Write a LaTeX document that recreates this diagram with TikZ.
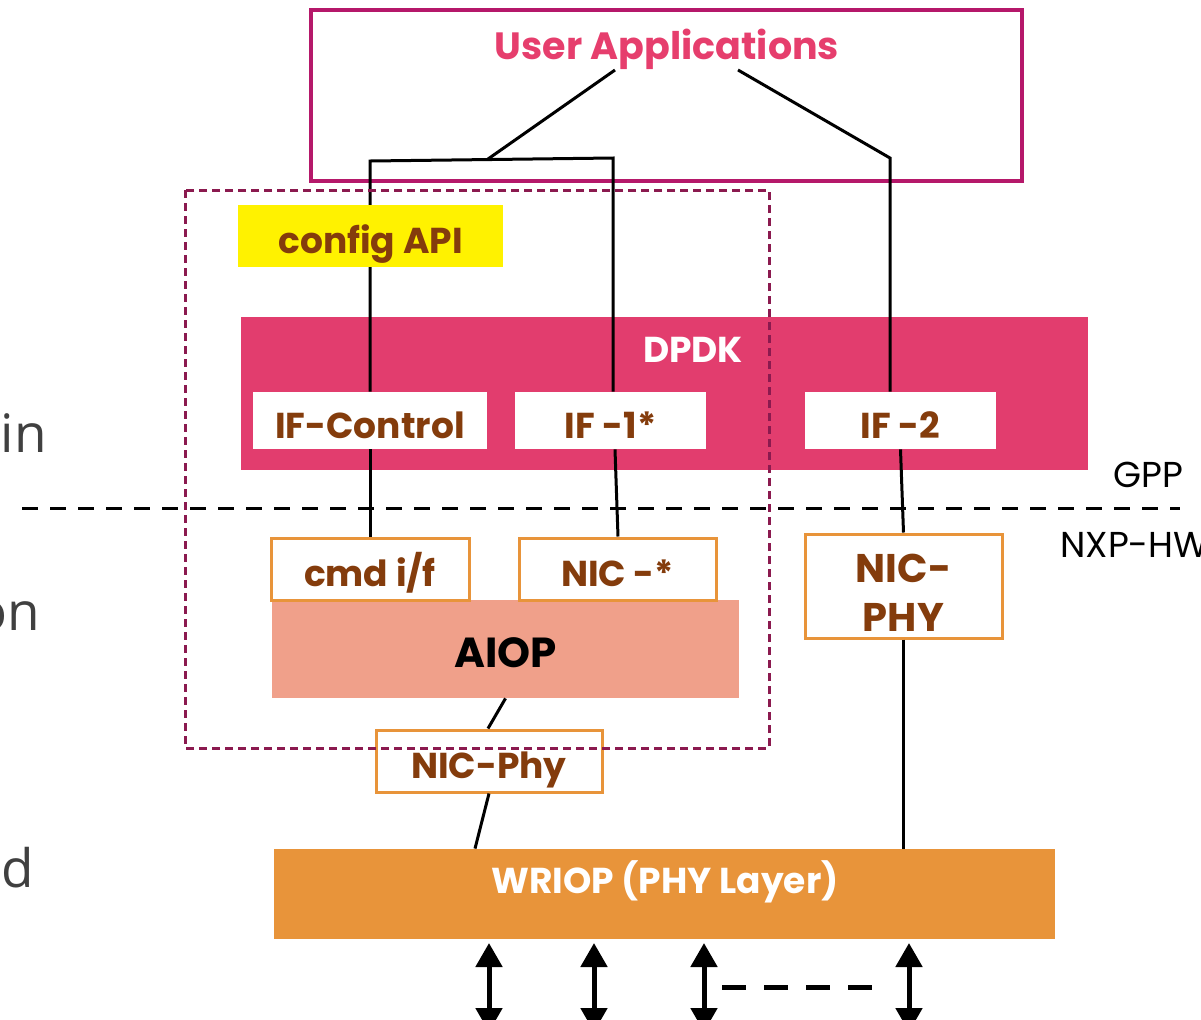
\documentclass[tikz,border=0pt]{standalone}
\usepackage{fontspec}
\setmainfont{Poppins}
\newfontfamily\sidefont{Open Sans}
\usetikzlibrary{arrows.meta}
\definecolor{appred}{HTML}{B5186A}
\definecolor{apptext}{HTML}{E63E6D}
\definecolor{dpdkred}{HTML}{E23D6E}
\definecolor{dashpurple}{HTML}{8B1A4F}
\definecolor{labbrown}{HTML}{843C0C}
\definecolor{nicorange}{HTML}{E8943A}
\definecolor{aiopsalmon}{HTML}{F0A08A}
\definecolor{sidegray}{HTML}{404040}
\tikzset{
    lbl/.style={font=\fontsize{18}{20}\selectfont\bfseries, text=labbrown, text height=17.6pt, text depth=0pt},
    ifbox/.style={lbl, fill=white, minimum height=28.5pt, inner sep=0pt},
    nicbox/.style={lbl, draw=nicorange, line width=1.5pt, fill=white, minimum height=31pt, inner sep=0pt},
    title/.style={font=\fontsize{18}{20}\selectfont\bfseries, anchor=base, inner sep=0pt},
    wire/.style={line width=1.5pt, black},
    hwarrow/.style={line width=2.5pt, {Triangle[width=13pt,length=12pt]}-{Triangle[width=13pt,length=12pt]}},
    side/.style={font=\sidefont\fontsize{26.5}{30}\selectfont, text=sidegray, anchor=base east, inner sep=0pt},
    zone/.style={font=\fontsize{18}{20}\selectfont, anchor=base west, inner sep=0pt},
}
\begin{document}
\begin{tikzpicture}[x=0.5pt,y=-0.5pt]
\useasboundingbox (0,0) rectangle (1201,1019);
% user applications
\node[draw=appred, line width=2pt, minimum width=355.5pt, minimum height=85.5pt] (usr) at (666.5,95.5) {};
\node[title, font=\fontsize{19}{20}\selectfont\bfseries, text=apptext] (usrlbl) at (667,59) {User Applications};
% dpdk layer
\node[fill=dpdkred, minimum width=423.5pt, minimum height=76.5pt] (dpdk) at (664.5,393.5) {};
\node[title, text=white] (dpdklbl) at (693,362) {DPDK};
\node[ifbox, minimum width=117pt] (ifctl) at (370,420.5) {IF-Control};
\node[ifbox, minimum width=95.5pt] (ifone) at (610.5,420.5) {IF -1*};
\node[ifbox, minimum width=95.5pt] (iftwo) at (900.5,420.5) {IF -2};
% GPP / NXP-HW split
\draw[line width=1.5pt, dash pattern=on 8pt off 6pt] (22,508) -- (1180,508);
\node[zone] (gpp) at (1113,487) {GPP};
\node[zone] (nxp) at (1060,557) {NXP-HW};
% aiop
\node[fill=aiopsalmon, minimum width=233.5pt, minimum height=49pt] (aiop) at (505.5,649) {};
\node[title, font=\fontsize{21}{22}\selectfont\bfseries] (aioplbl) at (505.5,667) {AIOP};
\node[nicbox, minimum width=99pt] (cmd) at (370,569) {cmd i/f};
\node[nicbox, minimum width=98.5pt] (nicstar) at (617.5,569) {NIC -*};
\node[nicbox, minimum width=98.5pt, minimum height=52pt] (nicphy) at (903.5,586) {};
\node[font=\fontsize{20}{24.5}\selectfont\bfseries, text=labbrown, align=center, inner sep=0pt] (nicphylbl) at (903.5,592.5) {NIC-\\PHY};
\node[nicbox, minimum width=113pt] (nicphy2) at (489,761) {NIC-Phy};
% wriop
\node[fill=nicorange, minimum width=390.5pt, minimum height=45pt] (wriop) at (664.5,894) {};
\node[title, text=white] (wrioplbl) at (665,893) {WRIOP (PHY Layer)};
% wires
\coordinate (fork) at (488,159);
\draw[wire] (615,70) -- (fork);
\draw[wire] (ifctl.north) -- (370,161) -- (613,158) -- (ifone.north -| 613,0);
\draw[wire] (738,70) -- (890,158) -- (iftwo.north -| 890,0);
\draw[wire] (ifctl.south) -- (cmd.north);
\draw[wire] (ifone.south -| 615,0) -- (cmd.north -| 618,0);
\draw[wire] (iftwo.south) -- (nicphy.north);
\draw[wire] (nicphy.south) -- (wriop.north -| nicphy.south);
\draw[wire] (aiop.south) -- (nicphy2.north -| 488,0);
\draw[wire] (nicphy2.south) -- (wriop.north -| 475,0);
\node[lbl, fill=yellow, minimum width=132.5pt, minimum height=31pt, inner sep=0pt] (cfg) at (370.5,236) {config API};
\draw[dashpurple, line width=1.5pt, dash pattern=on 4pt off 2.5pt] (185,190) rectangle (769,748);
% ports
\foreach \px in {489,594,704,909}
    \draw[hwarrow] (\px,943) -- (\px,1032);
\draw[line width=2.5pt, dash pattern=on 12pt off 9pt] (722,987) -- (878,987);
% side labels
\node[side] (sidea) at (47,452) {in};
\node[side] (sideb) at (40,630) {on};
\node[side] (sidec) at (34,887) {d};
\end{tikzpicture}
\end{document}
